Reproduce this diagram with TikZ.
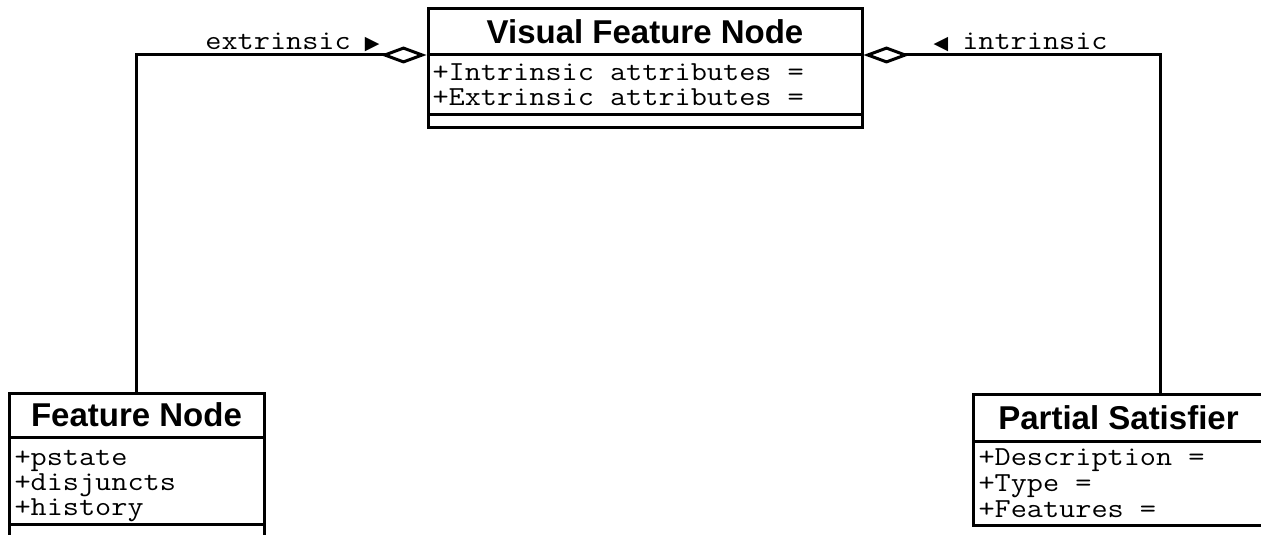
\documentclass[tikz,border=0pt]{standalone}
\usepackage{fontspec}
\setmainfont{Liberation Sans}
\newfontfamily\symf{DejaVu Sans}
\usetikzlibrary{arrows.meta}
\newcommand\mtxt[1]{\scalebox{1.14}[1]{#1}}
\begin{document}
\begin{tikzpicture}[x=1pt,y=-1pt,line width=3pt,
  box/.style={draw,line width=3pt,inner sep=0pt,outer sep=0pt,rectangle},
  ttl/.style={font=\fontsize{33}{33}\bfseries\selectfont},
  attr/.style={font=\ttfamily\fontsize{27.5}{27.5}\selectfont,anchor=base west,inner sep=0pt,text height=15pt,text depth=5pt},
  lbl/.style={font=\ttfamily\fontsize{27.5}{27.5}\selectfont,inner sep=0pt,text height=15pt,text depth=5pt},
  conn/.style={line width=3pt},
  agg/.style={{Diamond[open,length=46pt,width=17pt]}-}]
\useasboundingbox (0,0) rectangle (1261,535);
\clip (0,0) rectangle (1261,535);
% Visual Feature Node
\node[box,ttl,minimum width=434pt,minimum height=46pt] (vfnT) at (645,32) {Visual Feature Node};
\node[box,anchor=north,minimum width=434pt,minimum height=59pt] (vfnA) at (vfnT.south) {};
\node[box,anchor=north,minimum width=434pt,minimum height=13pt] (vfnO) at (vfnA.south) {};
\node[attr] (vfn1) at (431,81) {\mtxt{+Intrinsic attributes =}};
\node[attr] (vfn2) at (431,106) {\mtxt{+Extrinsic attributes =}};
% Feature Node
\node[box,ttl,minimum width=255pt,minimum height=44pt] (fnT) at (136.5,415) {Feature Node};
\node[box,anchor=north,minimum width=255pt,minimum height=87pt] (fnA) at (fnT.south) {};
\node[box,anchor=north,minimum width=255pt,minimum height=40pt] (fnO) at (fnA.south) {};
\node[attr] (fn1) at (13,465) {\mtxt{+pstate}};
\node[attr] (fn2) at (13,490) {\mtxt{+disjuncts}};
\node[attr] (fn3) at (13,515) {\mtxt{+history}};
% Partial Satisfier
\node[box,ttl,minimum width=291pt,minimum height=47pt] (psT) at (1118.5,417.5) {Partial Satisfier};
\node[box,anchor=north,minimum width=291pt,minimum height=84pt] (psA) at (psT.south) {};
\node[attr] (ps1) at (977,465) {\mtxt{+Description =}};
\node[attr] (ps2) at (977,491) {\mtxt{+Type =}};
\node[attr] (ps3) at (977,517) {\mtxt{+Features =}};
\coordinate (psTop) at (1160,393);
% connectors
\draw[conn,agg] ([xshift=-1.5pt]vfnA.north west) -| (fnT.north);
\draw[conn,agg] ([xshift=1.5pt]vfnA.north east) -| (psTop);
% labels
\node[lbl,anchor=base east] (lblE) at (381,49) {\mtxt{extrinsic} {\symf\fontsize{19}{19}\selectfont▶}};
\node[lbl,anchor=base west] (lblI) at (932,49) {{\symf\fontsize{19}{19}\selectfont◀} \mtxt{intrinsic}};
\end{tikzpicture}
\end{document}
